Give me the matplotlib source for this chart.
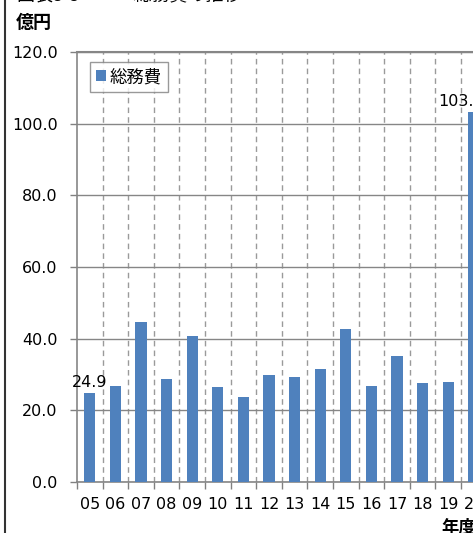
import matplotlib
matplotlib.use("Agg")
import matplotlib.pyplot as plt
from matplotlib.lines import Line2D
import numpy as np

plt.rcParams['font.family'] = ['DejaVu Sans', 'Noto Sans CJK JP']
JP = ['Noto Sans CJK JP', 'DejaVu Sans']

years = ["05", "06", "07", "08", "09", "10", "11", "12", "13", "14", "15", "16", "17", "18", "19", "20"]
values = [24.9, 26.7, 44.6, 28.7, 40.7, 26.4, 23.7, 29.9, 29.2, 31.4, 42.7, 26.9, 35.2, 27.5, 28.0, 103.2]
labeled = {0: "24.9", 15: "103.2"}
yticks = [0, 20, 40, 60, 80, 100, 120]
series_name = "総務費"
title = "図表3-3　　　総務費の推移"
y_unit = "億円"
x_unit = "年度"

W, H = 473, 533
fig = plt.figure(figsize=(W / 100, H / 100), dpi=100)
ax = fig.add_axes([77 / W, 51 / H, 409.6 / W, 430 / H])

x = np.arange(len(years))
bars = ax.bar(x, values, width=0.44, color="#4F81BD", zorder=3, label=series_name)

ax.set_xlim(-0.5, len(years) - 0.5)
ax.set_ylim(0, 120)
ax.set_yticks(yticks)
ax.set_yticklabels([f"{v:.1f}" for v in yticks], fontsize=11.5)
ax.set_xticks(x)
ax.set_xticklabels(years, fontsize=11.5)
ax.set_xticks(np.arange(len(years) + 1) - 0.5, minor=True)
ax.tick_params(axis='x', which='major', length=0, pad=11)
ax.tick_params(axis='x', which='minor', length=5, color="#808080", width=1)
ax.tick_params(axis='y', length=5, color="#808080", width=1, pad=9)

ax.grid(axis='y', color="#868686", linewidth=1, zorder=0)
for b in np.arange(1, len(years)) - 0.5:
    ax.axvline(b, color="#9a9a9a", linestyle=(0, (4, 3)), linewidth=1, zorder=1)

for s in ["top", "right"]:
    ax.spines[s].set_visible(False)
for s in ["left", "bottom"]:
    ax.spines[s].set_color("#868686")
    ax.spines[s].set_linewidth(1.2)
ax.axhline(120, color="#868686", linewidth=1.5, zorder=2, clip_on=False)

offsets = {0: (0, 2), 15: (-9, 2)}
for i, txt in labeled.items():
    ax.annotate(txt, (x[i], values[i]), xytext=offsets[i], textcoords="offset points",
                ha="center", va="bottom", fontsize=11.5, zorder=4)

leg = ax.legend(loc="upper left", bbox_to_anchor=(13 / 409.6, 1 - 10 / 430),
                prop={'family': JP, 'size': 12.5},
                frameon=True, fancybox=False, handlelength=0.6, handleheight=0.6,
                handletextpad=0.2, borderpad=0.35, borderaxespad=0)
leg.get_frame().set_edgecolor("#808080")
leg.get_frame().set_linewidth(1)

fig.text(16 / W, 1 - 22 / H, y_unit, fontsize=13, fontweight="bold", va="center", ha="left", family=JP)
fig.text(441 / W, 1 - 528 / H, x_unit, fontsize=12.5, fontweight="bold", va="center", ha="left", family=JP)
fig.text(17 / W, 1 - 1 / H, title, fontsize=13, va="baseline", ha="left", family=JP)

fig.add_artist(Line2D([4.5 / W, 4.5 / W], [0, 1], transform=fig.transFigure, color="#333333", linewidth=1.5))

fig.savefig("out.png", dpi=100)
